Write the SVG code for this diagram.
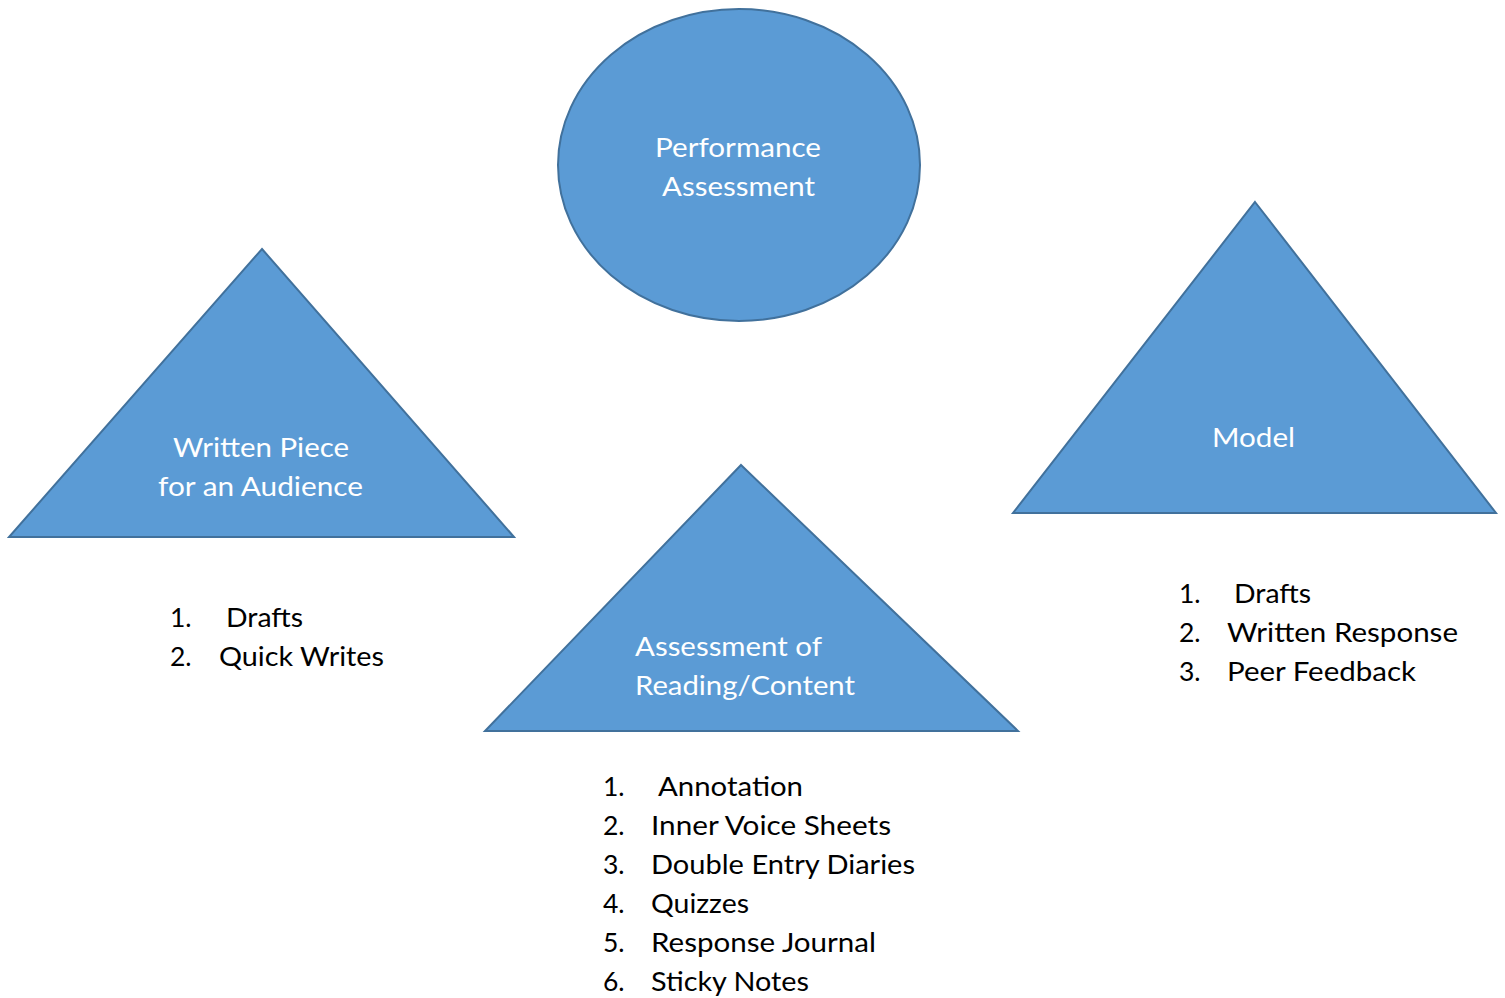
<svg xmlns="http://www.w3.org/2000/svg" width="1505" height="998" viewBox="0 0 1505 998">
  <style>
    .shape { fill: #5B9BD5; stroke: #41719C; stroke-width: 2; stroke-linejoin: miter; }
    .label { fill: #FFFFFF; font-family: Lato, "Open Sans", "Liberation Sans", sans-serif; font-size: 26.5px; }
    .item { fill: #000000; font-family: Lato, "Open Sans", "Liberation Sans", sans-serif; font-size: 26.5px; }
  </style>
  <rect width="1505" height="998" fill="#FFFFFF"/>

  <g id="connectors"></g>

  <g id="node-performance">
    <ellipse class="shape" cx="739" cy="165" rx="181" ry="156"/>
    <text class="label" x="655" y="157" textLength="166" lengthAdjust="spacingAndGlyphs">Performance</text>
    <text class="label" x="662" y="196" textLength="153" lengthAdjust="spacingAndGlyphs">Assessment</text>
  </g>

  <g id="node-written-piece">
    <polygon class="shape" points="262,249 514,537 9,537"/>
    <text class="label" x="173" y="457" textLength="176" lengthAdjust="spacingAndGlyphs">Written Piece</text>
    <text class="label" x="158" y="496" textLength="205" lengthAdjust="spacingAndGlyphs">for an Audience</text>
  </g>

  <g id="node-model">
    <polygon class="shape" points="1255,202 1496,513 1013,513"/>
    <text class="label" x="1212" y="447" textLength="83" lengthAdjust="spacingAndGlyphs">Model</text>
  </g>

  <g id="node-reading">
    <polygon class="shape" points="741,465 1018,731 485,731"/>
    <text class="label" x="635" y="656" textLength="187" lengthAdjust="spacingAndGlyphs">Assessment of</text>
    <text class="label" x="635" y="695" textLength="220" lengthAdjust="spacingAndGlyphs">Reading/Content</text>
  </g>

  <g id="list-written-piece">
    <text class="item" x="170" y="627">1.</text>
    <text class="item" x="226" y="627" textLength="77" lengthAdjust="spacingAndGlyphs">Drafts</text>
    <text class="item" x="170" y="666">2.</text>
    <text class="item" x="219" y="666" textLength="165" lengthAdjust="spacingAndGlyphs">Quick Writes</text>
  </g>

  <g id="list-model">
    <text class="item" x="1179" y="603">1.</text>
    <text class="item" x="1234" y="603" textLength="77" lengthAdjust="spacingAndGlyphs">Drafts</text>
    <text class="item" x="1179" y="642">2.</text>
    <text class="item" x="1227" y="642" textLength="231" lengthAdjust="spacingAndGlyphs">Written Response</text>
    <text class="item" x="1179" y="681">3.</text>
    <text class="item" x="1227" y="681" textLength="189" lengthAdjust="spacingAndGlyphs">Peer Feedback</text>
  </g>

  <g id="list-reading">
    <text class="item" x="603" y="796">1.</text>
    <text class="item" x="658" y="796" textLength="145" lengthAdjust="spacingAndGlyphs">Annotation</text>
    <text class="item" x="603" y="835">2.</text>
    <text class="item" x="651" y="835" textLength="240" lengthAdjust="spacingAndGlyphs">Inner Voice Sheets</text>
    <text class="item" x="603" y="874">3.</text>
    <text class="item" x="651" y="874" textLength="264" lengthAdjust="spacingAndGlyphs">Double Entry Diaries</text>
    <text class="item" x="603" y="913">4.</text>
    <text class="item" x="651" y="913" textLength="98" lengthAdjust="spacingAndGlyphs">Quizzes</text>
    <text class="item" x="603" y="952">5.</text>
    <text class="item" x="651" y="952" textLength="225" lengthAdjust="spacingAndGlyphs">Response Journal</text>
    <text class="item" x="603" y="991">6.</text>
    <text class="item" x="651" y="991" textLength="158" lengthAdjust="spacingAndGlyphs">Sticky Notes</text>
  </g>
</svg>
